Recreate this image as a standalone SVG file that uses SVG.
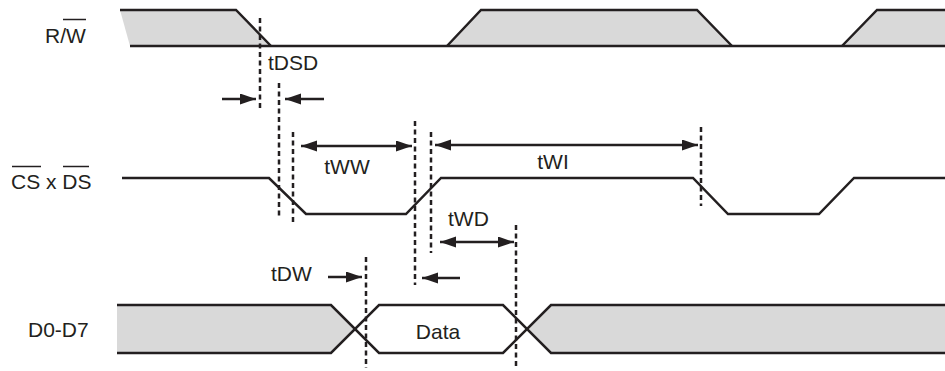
<svg xmlns="http://www.w3.org/2000/svg" width="945" height="371" viewBox="0 0 945 371">
<style>
text{font-family:"Liberation Sans",Arial,sans-serif;font-size:21px;fill:#231f20}
.sig{fill:none;stroke:#231f20;stroke-width:2.5;stroke-linejoin:miter}
.fill{fill:#d9d9d9;stroke:none}
.ov{stroke:#231f20;stroke-width:1.5}
.dash{stroke:#231f20;stroke-width:2.5;stroke-dasharray:5 3.5;fill:none}
.arr{stroke:#231f20;stroke-width:2.5;fill:none}
.one{marker-end:url(#ah)}
.two{marker-start:url(#ah);marker-end:url(#ah)}
</style>
<defs>
<marker id="ah" markerUnits="userSpaceOnUse" markerWidth="17" markerHeight="12" refX="16" refY="5.5" orient="auto-start-reverse">
<path d="M0,0 L16,5.5 L0,11 Z" fill="#231f20"/>
</marker>
</defs>
<rect width="945" height="371" fill="#ffffff"/>

<g id="rw">
<polygon class="fill" points="120,10 236,10 271,46 130,46"/>
<polygon class="fill" points="447,46 481,10 697,10 732,46"/>
<polygon class="fill" points="842,46 877,10 945,10 945,46"/>
<polyline class="sig" points="120,10 236,10 271,46"/>
<polyline class="sig" points="447,46 481,10 697,10 732,46"/>
<polyline class="sig" points="842,46 877,10 945,10"/>
<line class="sig" x1="130" y1="46" x2="945" y2="46"/>
<text x="45" y="43">R/W</text>
<line class="ov" x1="63" y1="19.5" x2="86" y2="19.5"/>
</g>

<g id="csds">
<polyline class="sig" points="122,178 269,178 306,214 406,214 441,178 693,178 728,214 819,214 854,178 945,178"/>
<text x="11" y="189">CS x DS</text>
<line class="ov" x1="12" y1="166.5" x2="41" y2="166.5"/>
<line class="ov" x1="63" y1="166.5" x2="89" y2="166.5"/>
</g>

<g id="data">
<polygon class="fill" points="117,305 331,305 355,329 331,353 117,353"/>
<polygon class="fill" points="527,329 551,305 945,305 945,353 551,353"/>
<polyline class="sig" points="117,305 331,305 379,353 503,353 551,305 945,305"/>
<polyline class="sig" points="117,353 331,353 379,305 503,305 551,353 945,353"/>
<text x="28" y="337">D0-D7</text>
<text x="438" y="339" text-anchor="middle">Data</text>
</g>

<g id="connectors">
<line class="dash" x1="260" y1="18" x2="260" y2="108"/>
<line class="dash" x1="279" y1="83" x2="279" y2="216"/>
<line class="dash" x1="293" y1="132" x2="293" y2="222"/>
<line class="dash" x1="415" y1="121" x2="415" y2="285"/>
<line class="dash" x1="431" y1="132" x2="431" y2="253"/>
<line class="dash" x1="701" y1="127" x2="701" y2="206"/>
<line class="dash" x1="516" y1="225" x2="516" y2="368"/>
<line class="dash" x1="366" y1="257" x2="366" y2="368"/>

<line class="arr one" x1="222" y1="99" x2="256" y2="99"/>
<line class="arr one" x1="324" y1="99" x2="285" y2="99"/>
<line class="arr two" x1="301" y1="146" x2="412" y2="146"/>
<line class="arr two" x1="435" y1="145" x2="698" y2="145"/>
<line class="arr two" x1="440" y1="242" x2="514" y2="242"/>
<line class="arr one" x1="328" y1="277" x2="362" y2="277"/>
<line class="arr one" x1="460" y1="278" x2="422" y2="278"/>
</g>

<g id="labels">
<text x="268" y="70">tDSD</text>
<text x="347" y="174" text-anchor="middle">tWW</text>
<text x="553" y="169" text-anchor="middle">tWI</text>
<text x="448" y="226">tWD</text>
<text x="271" y="281">tDW</text>
</g>
</svg>
